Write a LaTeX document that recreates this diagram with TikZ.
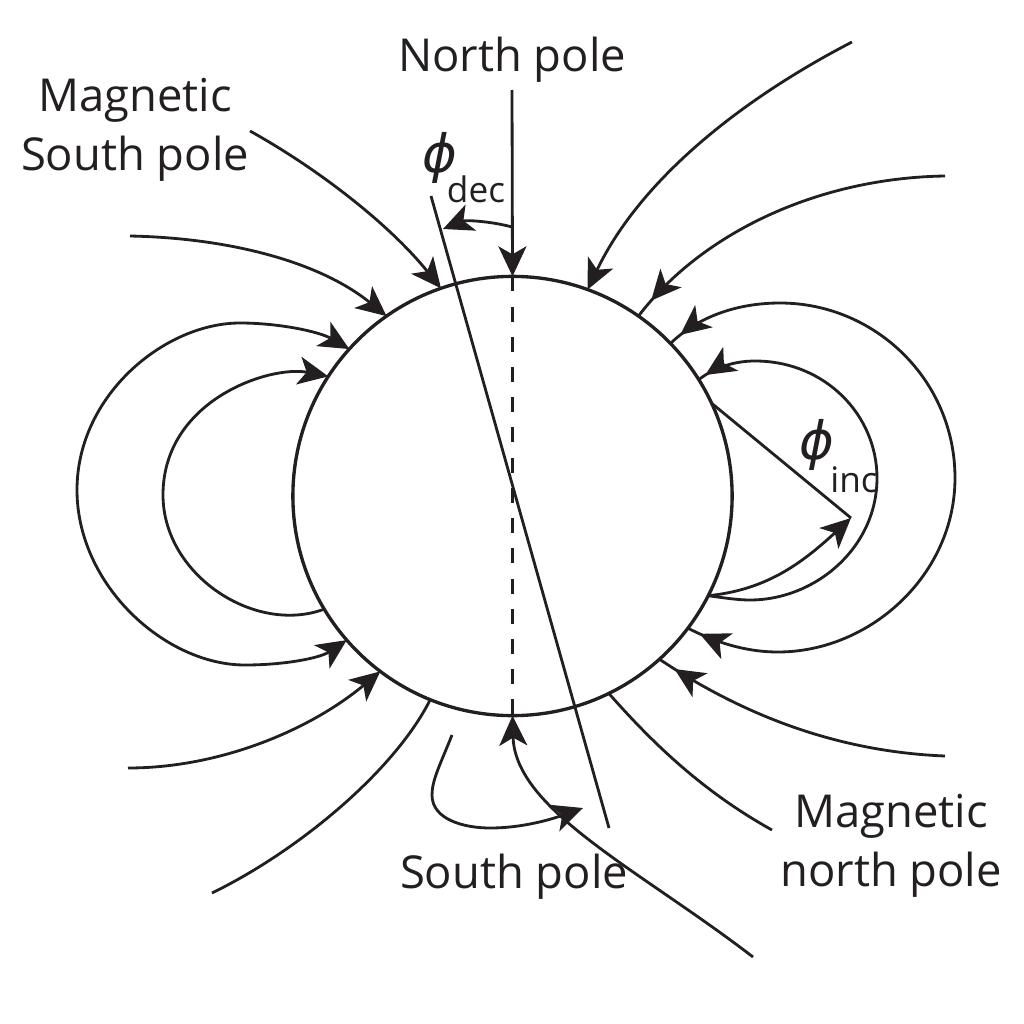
\documentclass[tikz,border=0pt]{standalone}
\usepackage{fontspec}
\setmainfont{Open Sans}
\newfontfamily\phifont{DejaVu Sans}
\usetikzlibrary{arrows.meta,decorations.markings}
\definecolor{ink}{HTML}{231F20}
\begin{document}
\begin{tikzpicture}[x=0.01cm, y=-0.01cm, line width=0.8pt, color=ink, >={Stealth[length=0.3cm,width=0.28cm,inset=0.08cm]},
  planet/.style={draw, circle, inner sep=0pt, outer sep=0pt, minimum size=4.39cm, line width=0.95pt},
  label/.style={font=\fontsize{12.9}{16.7}\selectfont, align=center, inner sep=0pt},
  sublabel/.style={font=\fontsize{10}{12}\selectfont, inner sep=0pt},
  greek/.style={font=\fontsize{15}{18}\phifont\itshape, inner sep=0pt},
  headat/.style={decoration={markings, mark=at position -#1 with {\arrow{>}}}, postaction={decorate}}]
\useasboundingbox (0,0) rectangle (1024,1024);

\node (earth) at (512.5,496) [planet] {};

\node (northlab) at (512,60) [label] {North pole};
\node (southlab) at (514,877) [label] {South pole};
\node (magsouth) at (135,130) [label] {Magnetic\\South pole};
\node (magnorth) at (891,846) [label] {Magnetic\\north pole};
\node (phidec) at (440,158) [greek] {ϕ};
\node (dec) at (476,189) [sublabel] {dec};
\node (phiinc) at (817,445) [greek] {ϕ};
\node (inc) at (854,480) [sublabel] {inc};

\coordinate (northtop) at (512,90);
\coordinate (magtop) at (431,196);
\coordinate (magbot) at (609,828);
\coordinate (deca) at (512,227);
\coordinate (decb) at (443,229);
\coordinate (incpt) at (851,518);
\coordinate (squiga) at (452,735);
\coordinate (squigb) at (583,808);

% poles and axes
\draw[->] (northtop) -- (earth.90);
\draw[dash pattern=on 0.15cm off 0.152cm] (earth.90) -- (earth.270);
\draw (magtop) -- (magbot);
\draw[->] (deca) .. controls (490,221) and (465,220) .. (decb);
\draw (earth.25.4) -- (incpt);
\draw[->] (earth.333.2) .. controls (765,590) and (800,565) .. (incpt);
\draw[->] (squiga) .. controls (440,765) and (432,780) .. (432,795) .. controls (432,820) and (465,828) .. (490,828) .. controls (525,828) and (555,818) .. (squigb);

% field lines, upper side
\draw[->] (250,131) .. controls (320,170) and (390,225) .. (earth.109.8);
\draw[->] (852,42) .. controls (740,100) and (640,180) .. (earth.70.2);
\draw[headat=0.2cm] (945,176) .. controls (815,178) and (700,235) .. (earth.55.7);
\draw[->] (130,236) .. controls (230,238) and (320,262) .. (earth.125.4);

% closed loops, left side
\draw[<->] (earth.138.7) .. controls (320,332) and (280,323) .. (240,323) .. controls (165,323) and (77,395) .. (77,490) .. controls (77,585) and (165,665) .. (245,665) .. controls (285,665) and (320,658) .. (earth.221.4);
\draw[<-] (earth.147.7) .. controls (270,365) and (163,400) .. (163,495) .. controls (163,575) and (255,635) .. (earth.211);

% closed loops, right side
\draw[headat=0.13cm] (778,652) .. controls (745,652) and (715,642) .. (earth.323.8);
\draw[headat=0.13cm] (780,303) .. controls (740,303) and (700,315) .. (earth.44.1);
\draw (780,303) .. controls (875,303) and (955,380) .. (955,478) .. controls (955,575) and (870,652) .. (778,652);
\draw[headat=0.08cm] (755,361) .. controls (735,361) and (715,367) .. (earth.32.8);
\draw (755,361) .. controls (825,361) and (877,415) .. (877,478) .. controls (877,548) and (815,600) .. (750,600) .. controls (738,600) and (725,598) .. (earth.333.2);

% field lines, lower side
\draw[->] (128,768) .. controls (220,768) and (310,730) .. (earth.233.6);
\draw (212,893) .. controls (300,850) and (395,770) .. (earth.248.8);
\draw[->] (753,957) .. controls (640,870) and (515,810) .. (earth.270);
\draw (772,830) .. controls (700,790) and (650,740) .. (earth.296.3);
\draw[headat=0.18cm] (945,756) .. controls (845,752) and (750,720) .. (earth.312);
\end{tikzpicture}
\end{document}
